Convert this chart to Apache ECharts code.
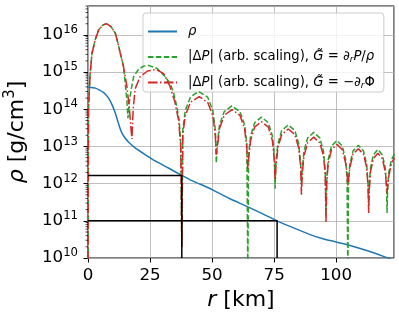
<!DOCTYPE html>
<html><head><meta charset="utf-8">
<script src="https://cdn.jsdelivr.net/npm/echarts@6/dist/echarts.min.js"></script>
<style>html,body{margin:0;padding:0;background:#fff}#c{width:399px;height:319px}</style>
</head><body><div id="c"></div><script>
// ---- tick values ----
const xTicks = [0, 25, 50, 75, 100];
const yMajorTicks = [1e10, 1e11, 1e12, 1e13, 1e14, 1e15, 1e16];
const yMinorTicks = [
  2e10,3e10,4e10,5e10,6e10,7e10,8e10,9e10,
  2e11,3e11,4e11,5e11,6e11,7e11,8e11,9e11,
  2e12,3e12,4e12,5e12,6e12,7e12,8e12,9e12,
  2e13,3e13,4e13,5e13,6e13,7e13,8e13,9e13,
  2e14,3e14,4e14,5e14,6e14,7e14,8e14,9e14,
  2e15,3e15,4e15,5e15,6e15,7e15,8e15,9e15,
  2e16,3e16,4e16,5e16,6e16
];
// ---- density rho (r in km, log10 of g/cm^3) ----
const rRho   = [0,2,3,4.5,6.3,7.3,8.3,9.7,11,12,13,13.7,15,16.3,19,23,27,32.4,37.8,41.2,45,50,57,64,70,76.2,81.4,89.5,95,99.5,104.9,112.3,119.6,123.3];
const logRho = [14.59,14.58,14.57,14.52,14.45,14.38,14.3,14.12,13.9,13.68,13.47,13.36,13.22,13.12,12.96,12.78,12.61,12.42,12.22,12.1,11.99,11.84,11.6,11.39,11.2,11.0,10.85,10.63,10.51,10.44,10.35,10.2,10.03,9.94];
// ---- |dP|, G = d_r P / rho (green) ----
const rG = [0,0.2,0.8,1.6,2.9,4.3,6,7.6,9.3,11,12,13,14.3,15,15.6,16.1,
  16.6,17.3,18.4,20.4,22.4,24.4,27.8,31,33.1,34.5,35.8,36.7,37.3,37.8,
  38.2,39.2,41.3,44.5,48.2,50.3,51.3,51.7,
  52.1,53.0,54.9,58.0,61.2,63.1,64.0,64.4,
  64.7,65.5,67.15,69.9,72.65,74.3,75.07,75.4,
  75.7,76.5,78.05,80.7,83.35,84.9,85.7,86.0,
  86.3,87.0,88.5,90.95,93.4,94.9,95.6,95.9,
  96.2,96.8,98.1,100.3,102.5,103.8,104.4,104.7,
  104.95,105.5,106.8,108.9,111.0,112.3,112.85,113.1,
  113.3,113.8,114.95,116.8,118.65,119.8,120.3,120.5,
  120.7,121.2,122.3,123.5];
const logG = [9.5,14.0,14.9,15.5,15.87,16.14,16.27,16.3,16.22,16.05,15.8,15.51,15.15,14.7,14.3,13.76,
  14.15,14.5,14.88,15.08,15.16,15.18,15.1,14.88,14.7,14.44,14.07,13.72,13.2,10.3,
  13.45,13.97,14.33,14.48,14.33,13.97,13.45,12.55,
  13.06,13.58,13.94,14.09,13.94,13.58,13.06,9.5,
  12.76,13.28,13.64,13.79,13.64,13.28,12.76,11.86,
  12.55,13.07,13.43,13.58,13.43,13.07,12.55,12.0,
  12.35,12.87,13.23,13.38,13.23,12.87,12.35,11.2,
  12.13,12.65,13.01,13.16,13.01,12.65,12.13,9.5,
  12.0,12.52,12.88,13.03,12.88,12.52,12.0,11.39,
  11.89,12.41,12.77,12.92,12.77,12.41,11.89,11.21,
  11.8,12.3,12.65,12.8];
// ---- |dP|, G = -d_r Phi (red) ----
const rR = [0,0.2,0.8,1.6,2.9,4.3,6,7.6,9.3,11,12,13,14.3,15,15.7,16.7,17.3,17.7,
  18.2,19,21,24,27.5,30.5,33,35,36.5,37.4,37.8,
  38.2,39.2,41.3,44.8,48.2,50.3,51.3,51.7,
  52.1,53.0,54.9,58.0,61.2,63.1,64.0,64.4,
  64.7,65.5,67.15,69.9,72.65,74.3,75.07,75.4,
  75.7,76.5,78.05,80.7,83.35,84.9,85.7,86.0,
  86.3,87.0,88.5,90.95,93.4,94.9,95.6,95.9,
  96.2,96.8,98.1,100.3,102.5,103.8,104.4,104.7,
  104.95,105.5,106.8,108.9,111.0,112.3,112.85,113.1,
  113.3,113.8,114.95,116.8,118.65,119.8,120.3,120.5,
  120.7,121.2,122.3,123.5];
const logR = [9.5,14.0,14.9,15.5,15.87,16.14,16.27,16.3,16.22,16.05,15.8,15.51,15.15,14.88,14.6,14.0,13.5,13.2,
  14.0,14.55,14.88,15.03,15.07,14.96,14.62,14.2,13.7,13.0,10.3,
  13.31,13.83,14.19,14.34,14.19,13.83,13.31,12.78,
  12.96,13.48,13.84,13.99,13.84,13.48,12.96,12.4,
  12.64,13.16,13.52,13.67,13.52,13.16,12.64,12.1,
  12.44,12.96,13.32,13.47,13.32,12.96,12.44,11.7,
  12.22,12.74,13.10,13.25,13.10,12.74,12.22,10.94,
  12.03,12.55,12.91,13.06,12.91,12.55,12.3,11.95,
  11.91,12.43,12.79,12.94,12.79,12.43,11.91,11.21,
  11.79,12.31,12.67,12.82,12.67,12.31,11.95,11.75,
  11.9,12.2,12.55,12.7];
// ---- marker lines (rho at r = 37.8 km and r = 76.2 km) ----
const marker1R = [0, 37.8, 37.8];
const marker1V = [1.66e12, 1.66e12, 1e10];
const marker2R = [0, 76.2, 76.2];
const marker2V = [1e11, 1e11, 1e10];

const pairsLog = (xs, ls) => xs.map((x, i) => [x, Math.pow(10, ls[i])]);
const pairs = (xs, vs) => xs.map((x, i) => [x, vs[i]]);

const FONT = 'DejaVu Sans';
const legendNames = {
  rho: '{i|ρ}',
  g1: '|Δ{i|P}| (arb. scaling), {i|G\u0303} = ∂{sub|r}{i|P}/{i|ρ}',
  g2: '|Δ{i|P}| (arb. scaling), {i|G\u0303} = −∂{sub|r}Φ'
};

const chart = echarts.init(document.getElementById('c'), null, {renderer: 'canvas'});
chart.setOption({
  animation: false,
  backgroundColor: '#fff',
  textStyle: {fontFamily: FONT},
  grid: {left: 88, top: 6, width: 306, height: 252, show: true, borderColor: '#000', borderWidth: 1,
    backgroundColor: 'transparent', containLabel: false, outerBoundsMode: 'none'},
  xAxis: {
    type: 'value', min: 0, max: 123.3, interval: 25,
    axisLine: {show: false},
    axisTick: {show: true, length: 4.5, lineStyle: {color: '#000', width: 1}},
    axisLabel: {margin: 9, fontSize: 16.7, color: '#000', fontFamily: FONT, showMaxLabel: false},
    splitLine: {show: true, lineStyle: {color: '#b0b0b0', width: 0.8}},
    name: '{i|r} [km]', nameLocation: 'middle', nameGap: 28,
    nameTextStyle: {fontSize: 22, color: '#000', fontFamily: FONT,
      rich: {i: {fontSize: 22, fontStyle: 'italic', fontFamily: FONT, color: '#000'}}}
  },
  yAxis: {
    type: 'log', logBase: 10, min: 1e10, max: 6e16,
    axisLine: {show: false},
    axisTick: {show: true, length: 4.5, lineStyle: {color: '#000', width: 1}},
    axisLabel: {
      margin: 10, color: '#000', showMaxLabel: false,
      formatter: v => {
        const e = Math.round(Math.log10(v));
        if (Math.abs(Math.log10(v) - e) > 1e-6) return '';
        return '{b|10}{s|' + e + '}';
      },
      rich: {
        b: {fontSize: 16.7, fontFamily: FONT, color: '#000', lineHeight: 22},
        s: {fontSize: 11.7, fontFamily: FONT, color: '#000', lineHeight: 13, verticalAlign: 'top'}
      }
    },
    splitLine: {show: true, lineStyle: {color: '#b0b0b0', width: 0.8}},
    name: '{i|ρ} [g/cm{s|3}]', nameLocation: 'middle', nameGap: 57, nameRotate: 90,
    nameTextStyle: {fontSize: 22, color: '#000', fontFamily: FONT,
      rich: {
        i: {fontSize: 22, fontStyle: 'italic', fontFamily: FONT, color: '#000', lineHeight: 28},
        s: {fontSize: 15, fontFamily: FONT, color: '#000', lineHeight: 17, verticalAlign: 'top'}
      }}
  },
  legend: {
    data: ['rho', 'g1', 'g2'],
    orient: 'vertical', left: 143, top: 13,
    itemWidth: 29, itemHeight: 14, itemGap: 10.5,
    padding: [11, 9, 2, 4],
    backgroundColor: 'rgba(255,255,255,0.8)', borderColor: '#cccccc', borderWidth: 1, borderRadius: 3,
    itemStyle: {opacity: 0},
    formatter: n => legendNames[n],
    textStyle: {
      fontSize: 13.2, fontFamily: FONT, color: '#000', lineHeight: 15, padding: [0, 0, 0, 6],
      rich: {
        i: {fontSize: 13.2, fontStyle: 'italic', fontFamily: FONT, color: '#000', lineHeight: 15},
        sub: {fontSize: 9, fontStyle: 'italic', fontFamily: FONT, color: '#000', lineHeight: 10, verticalAlign: 'bottom'}
      }
    }
  },
  series: [
    {name: 'rho', type: 'line', data: pairsLog(rRho, logRho), symbol: 'none', z: 3, smooth: 0.2,
      lineStyle: {color: '#1f77b4', width: 1.5}, itemStyle: {color: '#1f77b4'}},
    {name: 'g1', type: 'line', data: pairsLog(rG, logG), symbol: 'none', z: 4,
      lineStyle: {color: '#2ca02c', width: 1.5, type: [5.5, 2.4]}, itemStyle: {color: '#2ca02c'}},
    {name: 'g2', type: 'line', data: pairsLog(rR, logR), symbol: 'none', z: 5,
      lineStyle: {color: '#d62728', width: 1.5, type: [9.6, 2.4, 1.5, 2.4]}, itemStyle: {color: '#d62728'}},
    {name: 'm1', type: 'line', data: pairs(marker1R, marker1V), symbol: 'none', z: 6,
      lineStyle: {color: '#000', width: 1.5}},
    {name: 'm2', type: 'line', data: pairs(marker2R, marker2V), symbol: 'none', z: 6,
      lineStyle: {color: '#000', width: 1.5}},
    {name: 'minor', type: 'custom', coordinateSystem: 'cartesian2d', z: 7, silent: true,
      data: yMinorTicks.map(v => [0, v]),
      renderItem: (params, api) => {
        const p = api.coord([0, api.value(1)]);
        return {type: 'line', shape: {x1: p[0] - 2.5, y1: p[1], x2: p[0], y2: p[1]},
          style: {stroke: '#000', lineWidth: 0.7}};
      }}
  ]
});
</script></body></html>
